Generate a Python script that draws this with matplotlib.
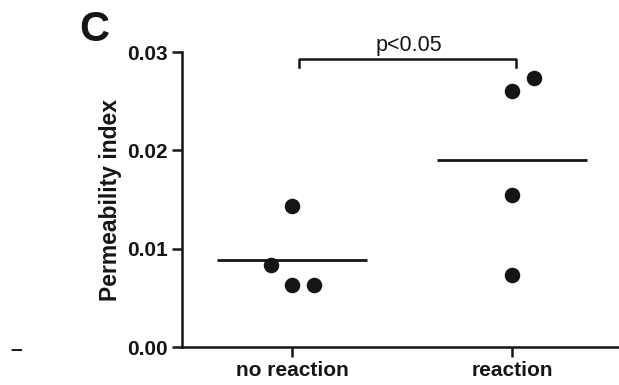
import matplotlib

matplotlib.use("Agg")
import matplotlib.pyplot as plt
import numpy as np

groups = ["no reaction", "reaction"]
no_reaction_x = [0.0, -0.095, 0.0, 0.1]
no_reaction_y = [0.0143, 0.0083, 0.0063, 0.0063]
reaction_x = [0.0, 0.1, 0.0, 0.0]
reaction_y = [0.0260, 0.0274, 0.0155, 0.0073]
group_means = [0.0089, 0.0190]
p_text = "p<0.05"
bracket_y = 0.0293
bracket_drop = 0.0008
y_ticks = [0.00, 0.01, 0.02, 0.03]

plt.rcParams.update(
    {
        "font.family": ["Liberation Sans", "DejaVu Sans"],
        "font.size": 15,
        "axes.linewidth": 1.8,
    }
)
ink = "#151515"

fig = plt.figure(figsize=(6.19, 3.85), dpi=100)
ax = fig.add_axes([0.294, 0.0987, 0.711, 0.766])

ax.scatter(no_reaction_x, no_reaction_y, s=125, color=ink, zorder=3, linewidths=0)
ax.scatter(reaction_x + np.ones(len(reaction_x)), reaction_y, s=125, color=ink, zorder=3, linewidths=0)
for i, m in enumerate(group_means):
    ax.hlines(m, i - 0.34, i + 0.34, color=ink, linewidth=2.0)

# significance bracket
ax.plot([0.03, 0.03, 1.02, 1.02],
        [bracket_y - bracket_drop, bracket_y, bracket_y, bracket_y - bracket_drop],
        color=ink, linewidth=1.8, clip_on=False)
ax.text(0.53, bracket_y + 0.0003, p_text, ha="center", va="bottom", fontsize=15.5, color=ink)

ax.set_xlim(-0.5, 1.5)
ax.set_ylim(0.0, 0.03)
ax.set_xticks([0, 1])
ax.set_xticklabels(groups, fontweight="bold", color=ink)
ax.set_yticks(y_ticks)
ax.set_yticklabels([f"{v:.2f}" for v in y_ticks], fontweight="bold", color=ink)
ax.tick_params(axis="both", direction="out", length=7, width=1.8, color=ink, pad=3)
ax.set_ylabel("Permeability index", fontweight="bold", fontsize=16.5, color=ink, labelpad=4)
for side in ("top", "right"):
    ax.spines[side].set_visible(False)
for side in ("left", "bottom"):
    ax.spines[side].set_color(ink)

fig.text(0.128, 0.975, "C", fontsize=30, fontweight="bold", color=ink, ha="left", va="top")
fig.text(0.016, 0.092, "–", fontsize=15, fontweight="bold", color=ink, ha="left", va="center")

fig.savefig("out.png", dpi=100)
